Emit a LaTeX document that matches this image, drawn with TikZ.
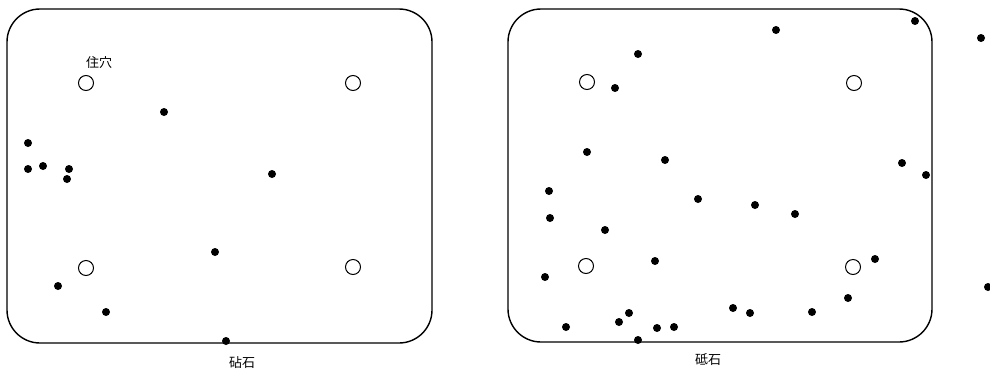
\documentclass[tikz,border=0pt]{standalone}
\usepackage{fontspec}
\newfontfamily\cjk{Noto Sans CJK JP}
\usepackage{tikz}
\usetikzlibrary{positioning}

\begin{document}
\begin{tikzpicture}[
  x=1pt, y=-1pt,
  plot/.style={draw, line width=1.4pt, rounded corners=33pt},
  posthole/.style={draw, circle, line width=1pt, minimum size=15pt, inner sep=0pt},
  stone/.style={fill, circle, minimum size=8pt, inner sep=0pt},
  lbl/.style={font=\cjk\fontsize{13}{15}\selectfont, inner sep=0pt}
]
  \useasboundingbox (0,0) rectangle (990,370);

  % left plot
  \draw[plot] (7,9) rectangle (432,343);
  \foreach \x/\y [count=\i] in {86/83, 353/83, 86/268, 353/267}
    \node[posthole] (hl\i) at (\x,\y) {};
  \node[lbl] (holelabel) at (99,63) {住穴};
  \foreach \x/\y [count=\i] in {164/112, 28/143, 28/169, 43/166, 69/169, 67/179,
      272/174, 215/252, 58/286, 106/312, 226/341}
    \node[stone] (al\i) at (\x,\y) {};
  \node[lbl] (anvil) at (242,363) {砧石};

  % right plot
  \draw[plot] (508,9) rectangle (932,342);
  \foreach \x/\y [count=\i] in {587/82, 854/83, 586/266, 853/267}
    \node[posthole] (hr\i) at (\x,\y) {};
  \foreach \x/\y [count=\i] in {776/30, 915/21, 981/38, 638/54, 615/88, 587/152,
      665/160, 902/163, 926/175, 549/191, 550/218, 698/199, 755/205, 795/214,
      605/230, 655/261, 875/259, 545/277, 988/287, 848/298, 733/308, 750/313,
      812/312, 629/313, 619/322, 566/327, 657/328, 674/327, 638/340}
    \node[stone] (wr\i) at (\x,\y) {};
  \node[lbl] (whetstone) at (708,360) {砥石};
\end{tikzpicture}
\end{document}
